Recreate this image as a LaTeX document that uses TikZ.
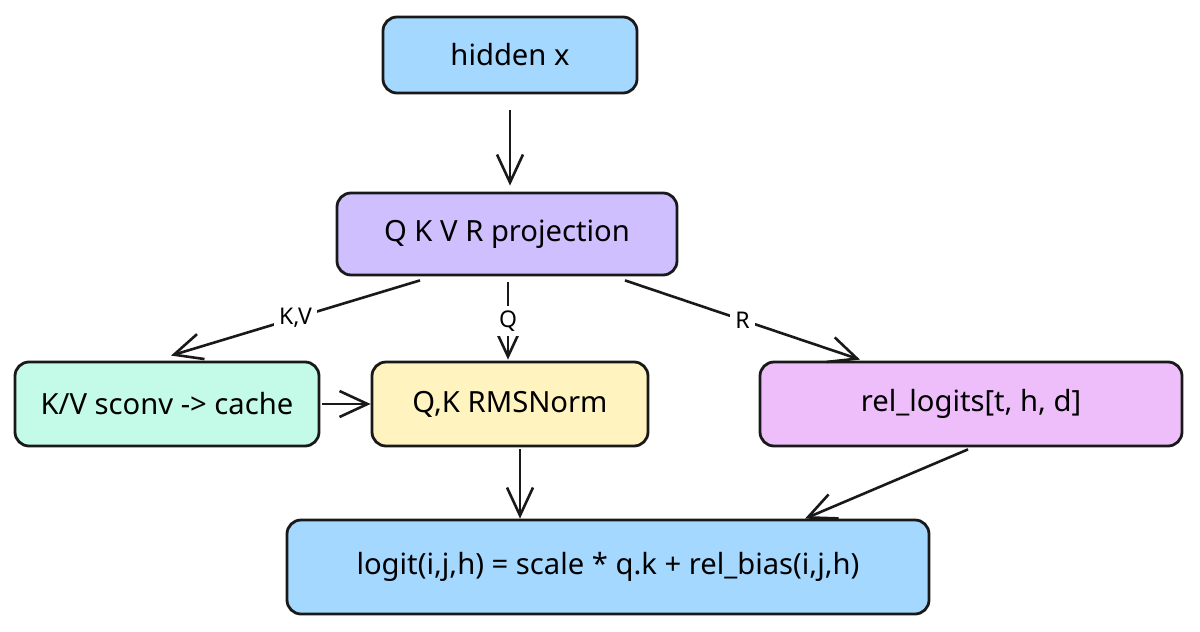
\documentclass[tikz,border=0pt]{standalone}
\usepackage{fontspec}
\setmainfont{Noto Sans}
\usetikzlibrary{arrows.meta}

\definecolor{hidblue}{HTML}{A5D8FF}
\definecolor{projpurple}{HTML}{D0BFFF}
\definecolor{cachegreen}{HTML}{C3FAE8}
\definecolor{normyellow}{HTML}{FFF3BF}
\definecolor{relpink}{HTML}{EEBEFA}

\tikzset{
    box/.style={draw=black!90, line width=1.4pt, rounded corners=7pt,
        align=center, inner sep=0pt, font=\fontsize{14.6}{17}\selectfont},
    arr/.style={draw=black!90, line width=1.3pt,
        -{Straight Barb[length=14pt,width=13pt,line width=1.3pt]}},
    lbl/.style={fill=white, inner sep=2.5pt, font=\fontsize{11.5}{13}\selectfont}
}

\begin{document}
\begin{tikzpicture}[x=0.5pt,y=-0.5pt]

    \useasboundingbox (0,0) rectangle (1200,632);

    % Boxes
    \node[box, fill=hidblue, minimum width=127pt, minimum height=38pt]
        (hidden) at (510,55) {hidden x};
    \node[box, fill=projpurple, minimum width=170pt, minimum height=41pt]
        (proj) at (507,234) {Q K V R projection};
    \node[box, fill=cachegreen, minimum width=152pt, minimum height=42pt]
        (cache) at (167,404) {K/V sconv -> cache};
    \node[box, fill=normyellow, minimum width=138pt, minimum height=42pt]
        (norm) at (510,404) {Q,K RMSNorm};
    \node[box, fill=relpink, minimum width=211pt, minimum height=42pt]
        (rel) at (971,404) {rel\_logits[t, h, d]};
    \node[box, fill=hidblue, minimum width=321pt, minimum height=47pt]
        (logit) at (608,567) {logit(i,j,h) = scale * q.k + rel\_bias(i,j,h)};

    % Arrows from the input to the projection
    \draw[arr] ([yshift=-8pt]hidden.south) -- ([yshift=3pt]hidden.south |- proj.north);

    % Split into K,V / Q / R
    \draw[arr] ([xshift=-43.5pt,yshift=-2pt]proj.south)
        -- node[lbl, pos=0.5] {K,V} ([xshift=2pt,yshift=2.5pt]cache.north);
    \draw[arr] ([xshift=0.5pt,yshift=-3pt]proj.south)
        -- node[lbl, pos=0.5] {Q} ([xshift=0.5pt,yshift=0.5pt]proj.south |- norm.north);
    \draw[arr] ([xshift=59pt,yshift=-2pt]proj.south)
        -- node[lbl, pos=0.5] {R} ([xshift=-55.5pt,yshift=0.5pt]rel.north);

    % Cache into the norm
    \draw[arr] ([xshift=1pt]cache.east) -- (norm.west);

    % Into the logit
    \draw[arr] ([xshift=5pt,yshift=-1pt]norm.south) -- ([xshift=-44pt]logit.north);
    \draw[arr] ([xshift=-1.5pt,yshift=-1pt]rel.south) -- ([xshift=98.5pt]logit.north);

\end{tikzpicture}
\end{document}
